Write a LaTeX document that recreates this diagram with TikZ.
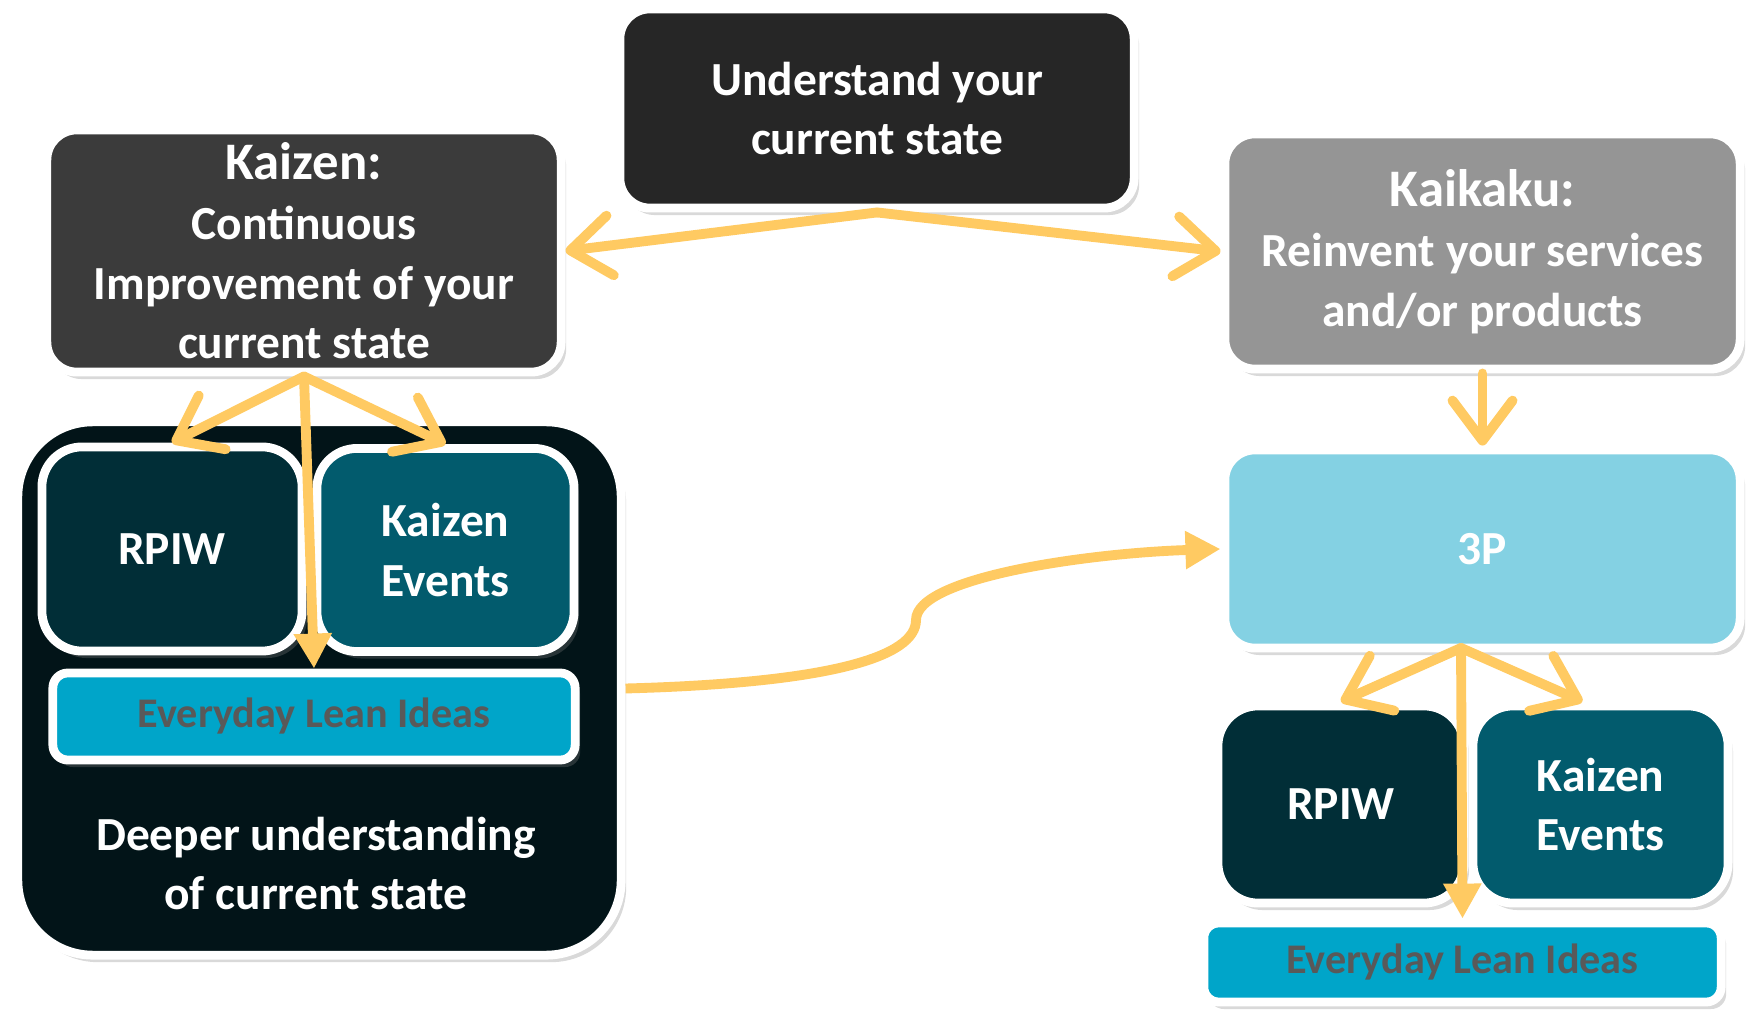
\documentclass[tikz,border=0pt]{standalone}
\usepackage{fontspec}
\setmainfont{Carlito}
\usetikzlibrary{arrows.meta,shadows}
\definecolor{arrowgold}{HTML}{FFCA62}
\definecolor{understandfill}{HTML}{262626}
\definecolor{kaizenfill}{HTML}{3B3B3B}
\definecolor{kaikakufill}{HTML}{959595}
\definecolor{threepfill}{HTML}{84D1E3}
\definecolor{deeperfill}{HTML}{021418}
\definecolor{rpiwfill}{HTML}{012E37}
\definecolor{eventsfill}{HTML}{025B6D}
\definecolor{leanfill}{HTML}{00A5C9}
\definecolor{leantext}{HTML}{595959}
\newcommand{\boxtitle}[1]{{\fontsize{15}{17}\selectfont #1}}
\tikzset{
	panel/.style={rectangle, rounded corners=0.3cm, draw=white, line width=2.5pt,
		text=white, align=center, inner sep=2pt,
		font=\bfseries\fontsize{13.5}{17}\selectfont,
		drop shadow={shadow xshift=0.5mm, shadow yshift=-0.7mm, opacity=0.3}},
	leanbar/.style={panel, fill=leanfill, text=leantext, rounded corners=0.15cm,
		font=\bfseries\fontsize{12}{14}\selectfont},
	flow/.style={draw=arrowgold, line width=2.8pt, line cap=round,
		-{Straight Barb[length=0.4cm,width=0.6cm,round]}},
	feed/.style={draw=arrowgold, line width=2.8pt,
		-{Triangle[length=0.35cm,width=0.36cm]}}
}

\begin{document}
\begin{tikzpicture}[x=0.01cm, y=0.01cm]
	\useasboundingbox (0,0) rectangle (1752,1009);
	\node (understand) at (877,900.5) [panel, fill=understandfill, minimum width=5.14cm, minimum height=1.99cm] {Understand your\\current state};
	\node (kaizen) at (304,758) [panel, fill=kaizenfill, minimum width=5.14cm, minimum height=2.42cm] {\boxtitle{Kaizen:}\\Continuous\\Improvement of your\\current state};
	\node (kaikaku) at (1482.5,757.5) [panel, fill=kaikakufill, minimum width=5.15cm, minimum height=2.35cm] {\boxtitle{Kaikaku:}\\Reinvent your services\\and/or products};
	\node (threeP) at (1482.5,460) [panel, fill=threepfill, minimum width=5.15cm, minimum height=1.98cm] {3P};

	% left group
	\node (deeper) at (319.5,320.5) [panel, fill=deeperfill, minimum width=6.03cm, minimum height=5.33cm, rounded corners=0.75cm] {};
	\node (rpiwL) at (172,460) [panel, fill=rpiwfill, minimum width=2.6cm, minimum height=2.04cm, rounded corners=0.4cm] {RPIW};
	\node (eventsL) at (445.5,459) [panel, fill=eventsfill, minimum width=2.57cm, minimum height=2.03cm, rounded corners=0.4cm] {Kaizen\\Events};
	\node (leanL) at (314,292.5) [leanbar, minimum width=5.22cm, minimum height=0.87cm] {Everyday Lean Ideas};
	\node (deeperTxt) at (316,145.5) [text=white, align=center, font=\bfseries\fontsize{13.5}{17}\selectfont] {Deeper understanding\\of current state};

	% right group
	\node (rpiwR) at (1341,204.5) [panel, fill=rpiwfill, minimum width=2.46cm, minimum height=1.97cm, rounded corners=0.4cm] {RPIW};
	\node (eventsR) at (1600.5,204.5) [panel, fill=eventsfill, minimum width=2.55cm, minimum height=1.97cm, rounded corners=0.4cm] {Kaizen\\Events};
	\node (leanR) at (1462.5,46.5) [leanbar, minimum width=5.17cm, minimum height=0.79cm] {Everyday Lean Ideas};
	\coordinate (hubR) at (1461,361);
	\coordinate (bend) at (916,389);

	\draw [flow] (understand.south) -- (kaizen.east);
	\draw [flow] (understand.south) -- (kaikaku.west);
	\draw [flow] (kaizen.south) -- (rpiwL.north);
	\draw [flow] (kaizen.south) -- (eventsL.north);
	\draw [feed] (kaizen.south) -- (leanL.north);
	\draw [flow] (kaikaku.south) -- (threeP.north);
	\draw [feed] (deeper.east) .. controls (830,326) and (916,352) .. (bend) .. controls (916,432) and (1090,456) .. (threeP.west);
	\draw [flow] (hubR) -- (rpiwR.north);
	\draw [flow] (hubR) -- (eventsR.100);
	\draw [feed] (hubR) -- (leanR.north);
\end{tikzpicture}
\end{document}
